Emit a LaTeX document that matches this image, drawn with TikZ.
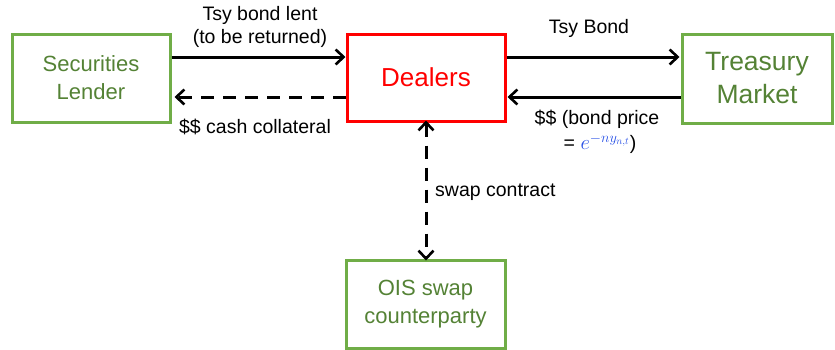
\documentclass[tikz,border=0pt]{standalone}
\usepackage{fontspec}
\setmainfont{Liberation Sans}
\usetikzlibrary{arrows.meta}
\definecolor{boxgreen}{RGB}{112,173,71}
\definecolor{txtgreen}{RGB}{84,130,53}
\definecolor{mathblue}{RGB}{40,80,230}
\begin{document}
\begin{tikzpicture}[x=1pt,y=-1pt,
  gbox/.style={draw=boxgreen,line width=3pt,text=txtgreen,align=center,inner sep=0pt},
  rbox/.style={draw=red,line width=3pt,text=red,align=center,inner sep=0pt},
  conn/.style={line width=3pt,-{Straight Barb[length=8pt,width=15pt,line width=2.6pt]}},
  dconn/.style={conn,dash pattern=on 13pt off 9pt},
  lbl/.style={font=\fontsize{19.5}{23}\selectfont,align=center,inner sep=0pt}]
\useasboundingbox (0,0) rectangle (835,349);
\node[gbox,minimum width=158pt,minimum height=88pt,font=\fontsize{22}{28}\selectfont] (sl) at (91,78) {Securities\\Lender};
\node[rbox,minimum width=158pt,minimum height=87pt,font=\fontsize{26}{30}\selectfont] (dl) at (426,77.5) {Dealers};
\node[gbox,minimum width=150pt,minimum height=89pt,font=\fontsize{26.5}{33}\selectfont] (tm) at (757,78.5) {Treasury\\Market};
\node[gbox,minimum width=159pt,minimum height=88pt,font=\fontsize{22}{28}\selectfont] (ois) at (425.5,304) {OIS swap\\counterparty};
\coordinate (a1s) at (sl.east |- 0,57);
\coordinate (a1e) at (dl.west |- 0,57);
\draw[conn] (a1s) -- (a1e);
\coordinate (a2s) at (dl.west |- 0,97);
\coordinate (a2e) at (sl.east |- 0,97);
\draw[dconn] (a2s) -- ([xshift=3pt]a2e);
\coordinate (a3s) at (dl.east |- 0,57);
\coordinate (a3e) at (tm.west |- 0,57);
\draw[conn] (a3s) -- ([xshift=-1pt]a3e);
\coordinate (a4s) at (tm.west |- 0,97);
\coordinate (a4e) at (dl.east |- 0,97);
\draw[conn] (a4s) -- ([xshift=1pt]a4e);
\coordinate (vs) at (426,0 |- dl.south);
\coordinate (ve) at (426,0 |- ois.north);
\draw[dconn,{Straight Barb[length=8pt,width=15pt,line width=2.6pt]}-{Straight Barb[length=8pt,width=15pt,line width=2.6pt]}] ([yshift=2pt]vs) -- ([yshift=-2pt]ve);
\node[lbl] (l1) at (260,27) {Tsy bond lent\\(to be returned)};
\node[lbl] (l2) at (255,127) {\$\$ cash collateral};
\node[lbl] (l3) at (589,28) {Tsy Bond};
\node[lbl,anchor=north,font=\fontsize{19.5}{25}\selectfont] (l4) at (597,110) {\$\$ (bond price\\\hspace*{6pt}= \textcolor{mathblue}{$e^{-ny_{n,t}}$})};
\node[lbl,anchor=west] (l5) at (435,192) {swap contract};
\end{tikzpicture}
\end{document}
